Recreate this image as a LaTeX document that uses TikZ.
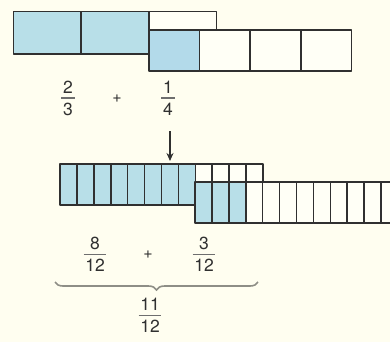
\documentclass[tikz,border=0pt]{standalone}
\usepackage{fontspec}
\setmainfont{TeX Gyre Heros}
\usetikzlibrary{decorations.pathreplacing,arrows.meta}
\definecolor{bg}{HTML}{FFFEF0}
\definecolor{cellblue}{HTML}{B8DFE8}
\definecolor{cellblueq}{HTML}{B3DAEA}
\definecolor{cellwhite}{HTML}{FFFFF6}
\definecolor{ink}{HTML}{303030}
\definecolor{bracegrey}{HTML}{8E8E86}
\newcommand\fracnode[5]{%
  \node[fnum] (#1num) at ({#2},{#3-4.5}) {#4};
  \node[fden] (#1den) at ({#2},{#3+4.5}) {#5};
  \draw[fbar] ([xshift=-1.5pt]#1den.west |- {#2},{#3}) -- ([xshift=1.5pt]#1den.east |- {#2},{#3});}
\begin{document}
\begin{tikzpicture}[x=1pt,y=-1pt,
  cell/.style={draw=ink,line width=1.6pt,line join=round},
  fnum/.style={font=\fontsize{17.5}{18}\selectfont,text=ink,inner sep=0pt,anchor=south},
  fden/.style={font=\fontsize{17.5}{18}\selectfont,text=ink,inner sep=0pt,anchor=north},
  fbar/.style={draw=ink!70,line width=1pt},
  plus/.style={font=\fontsize{16}{16}\selectfont,text=ink,inner sep=0pt},
  bracestyle/.style={draw=bracegrey,line width=1.6pt,decorate,
    decoration={brace,mirror,amplitude=8pt}},
  arrowstyle/.style={draw=ink,line width=1.6pt,-{Stealth[length=8pt,width=7pt]}}]
\fill[bg] (0,0) rectangle (390,342);
\useasboundingbox (0,0) rectangle (390,342);
% thirds bar
\foreach \i in {0,1}
  \draw[cell,fill=cellblue] ({13.5+67.7*\i},11.5) rectangle ++(67.7,42.5);
\draw[cell,fill=cellwhite] (149,11.5) rectangle (216.5,54);
% quarters bar
\draw[cell,fill=cellblueq] (149,30) rectangle ++(50.6,41);
\foreach \i in {1,2,3}
  \draw[cell,fill=cellwhite] ({149+50.6*\i},30) rectangle ++(50.6,41);
% fractions top
\fracnode{a}{68}{98}{2}{3}
\node[plus] (p1) at (117,99) {+};
\fracnode{b}{168}{98}{1}{4}
% arrow
\coordinate (arrA) at (170,131);
\coordinate (arrB) at (170,161);
\draw[arrowstyle] (arrA) -- (arrB);
% twelfths bar 1
\foreach \i in {0,...,7}
  \draw[cell,fill=cellblue] ({60+16.92*\i},164) rectangle ++(16.92,41);
\foreach \i in {8,...,11}
  \draw[cell,fill=cellwhite] ({60+16.92*\i},164) rectangle ++(16.92,41);
% twelfths bar 2
\foreach \i in {0,1,2}
  \draw[cell,fill=cellblue] ({195+16.92*\i},182) rectangle ++(16.92,41);
\foreach \i in {3,...,11}
  \draw[cell,fill=cellwhite] ({195+16.92*\i},182) rectangle ++(16.92,41);
% fractions bottom
\fracnode{c}{95}{254}{8}{12}
\node[plus] (p2) at (148,255) {+};
\fracnode{d}{204}{254}{3}{12}
\coordinate (brL) at (55,282);
\coordinate (brR) at (258,282);
\draw[bracestyle] (brL) -- (brR);
\fracnode{e}{150}{315}{11}{12}
\end{tikzpicture}
\end{document}
